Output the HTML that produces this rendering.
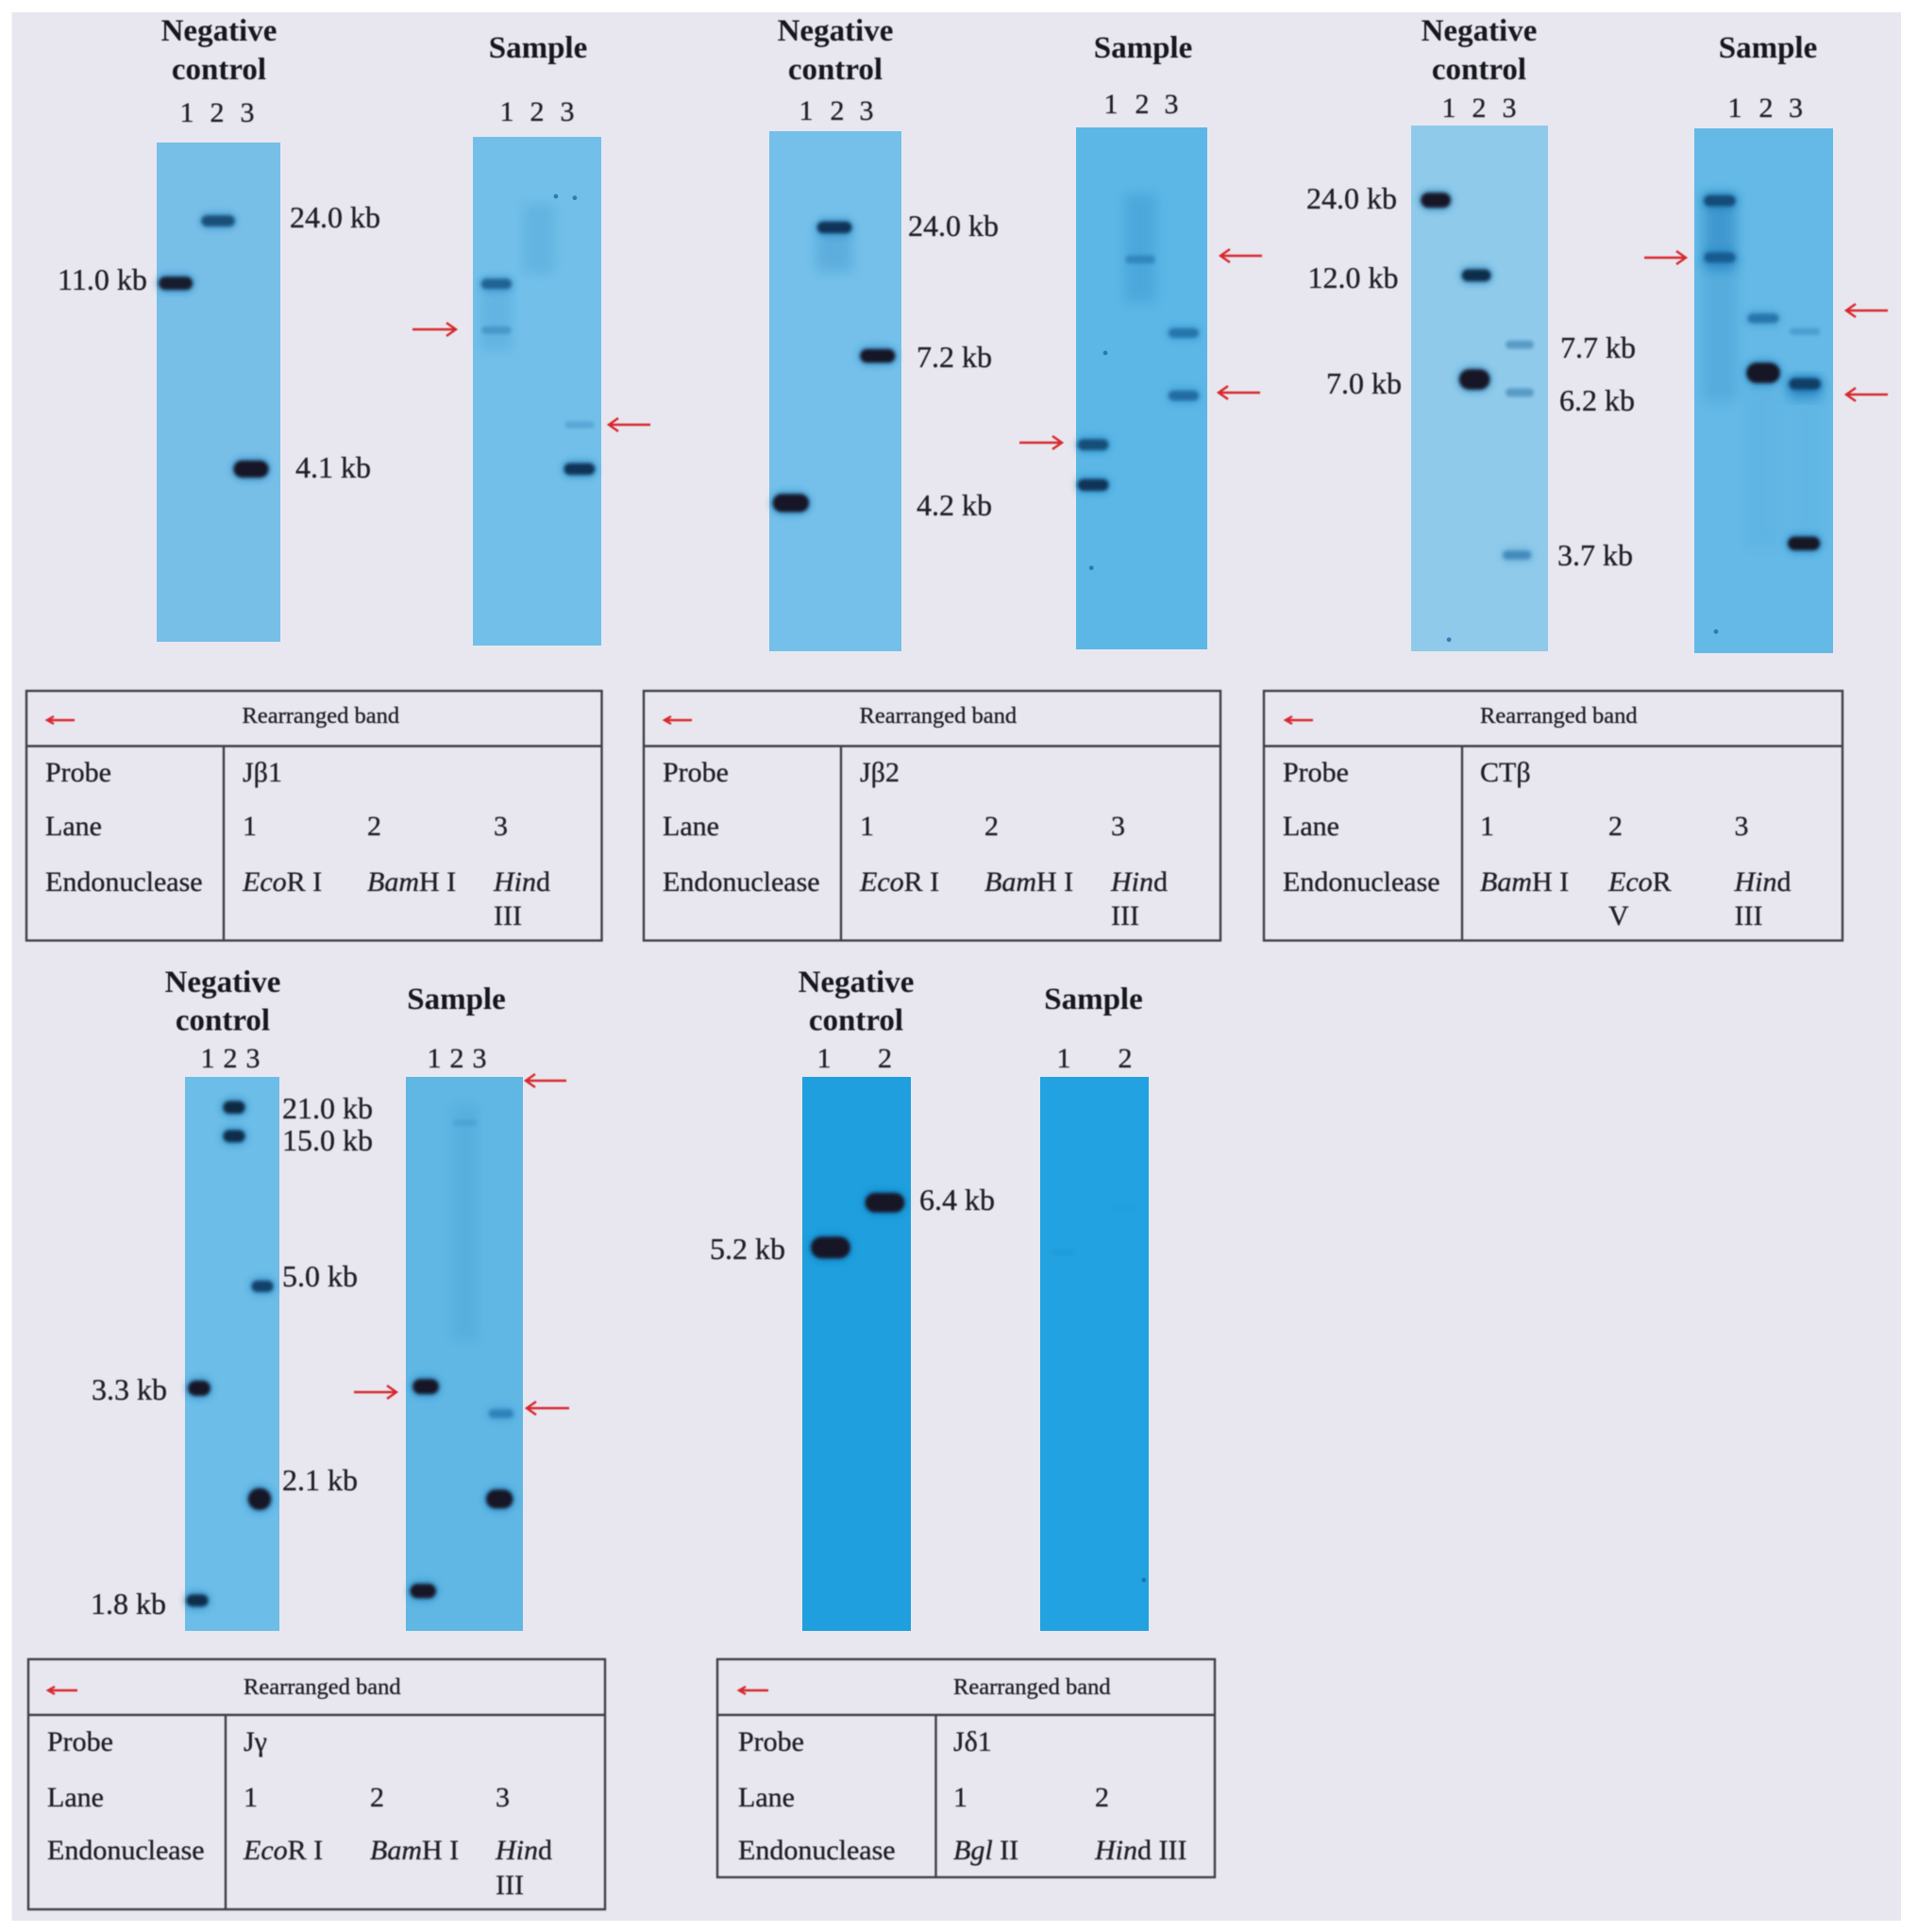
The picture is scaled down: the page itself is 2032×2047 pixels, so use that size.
<!DOCTYPE html>
<html lang="en">
<head>
<meta charset="utf-8">
<title>Southern blot panels</title>
<style>
html,body{margin:0;padding:0;background:#fff}
svg{display:block}
text{font-family:"Liberation Serif",serif;fill:#1f1f27;stroke:#1f1f27;stroke-width:.35px}
.h{font-weight:bold;font-size:33px;text-anchor:middle;fill:#17171e;stroke:none}
.n{font-size:30px;text-anchor:middle}
.k{font-size:32px}
.t{font-size:30px}
.r{font-size:24.5px}
.i{font-style:italic}
.line{stroke:#3f3f49;stroke-width:2.4;fill:none}
.arr{stroke:#d9282e;stroke-width:2.4;fill:none}
.soft{filter:blur(.6px)}
</style>
</head>
<body>
<svg id="figure" xmlns="http://www.w3.org/2000/svg" width="2032" height="2047" viewBox="0 0 2032 2047">
<defs>
<filter id="coreBlur" x="-30%" y="-60%" width="160%" height="220%"><feGaussianBlur stdDeviation="1.9"/></filter>
<filter id="haloBlur" x="-40%" y="-100%" width="180%" height="300%"><feGaussianBlur stdDeviation="4"/></filter>
<filter id="smearBlur" x="-50%" y="-30%" width="200%" height="160%"><feGaussianBlur stdDeviation="6"/></filter>
</defs>
<rect x="12.5" y="13" width="2001.5" height="2022" fill="#e8e7ef"/>
<g id="blots"></g>
<g class="soft">

<g>
<text class="h" x="232" y="43">Negative</text>
<text class="h" x="232" y="84">control</text>
<text class="h" x="570" y="61">Sample</text>
<text class="n" x="198" y="129">1</text>
<text class="n" x="230" y="129">2</text>
<text class="n" x="262" y="129">3</text>
<text class="n" x="537" y="128">1</text>
<text class="n" x="569" y="128">2</text>
<text class="n" x="601" y="128">3</text>
<text class="k" x="307" y="241">24.0 kb</text>
<text class="k" x="61" y="307">11.0 kb</text>
<text class="k" x="313" y="506">4.1 kb</text>
<path class="arr" d="M437 349H483M473 342L483 349L473 356"/>
<path class="arr" d="M689 450H645M655 443L645 450L655 457"/>
</g>

<g>
<text class="h" x="885" y="43">Negative</text>
<text class="h" x="885" y="84">control</text>
<text class="h" x="1211" y="61">Sample</text>
<text class="n" x="854" y="127">1</text>
<text class="n" x="887" y="127">2</text>
<text class="n" x="918" y="127">3</text>
<text class="n" x="1177" y="120">1</text>
<text class="n" x="1210" y="120">2</text>
<text class="n" x="1241" y="120">3</text>
<text class="k" x="962" y="250">24.0 kb</text>
<text class="k" x="971" y="389">7.2 kb</text>
<text class="k" x="971" y="546">4.2 kb</text>
<path class="arr" d="M1080 469H1125M1115 462L1125 469L1115 476"/>
<path class="arr" d="M1337 271H1293M1303 264L1293 271L1303 278"/>
<path class="arr" d="M1335 416H1291M1301 409L1291 416L1301 423"/>
</g>

<g>
<text class="h" x="1567" y="43">Negative</text>
<text class="h" x="1567" y="84">control</text>
<text class="h" x="1873" y="61">Sample</text>
<text class="n" x="1535" y="124">1</text>
<text class="n" x="1567" y="124">2</text>
<text class="n" x="1599" y="124">3</text>
<text class="n" x="1838" y="124">1</text>
<text class="n" x="1871" y="124">2</text>
<text class="n" x="1902.5" y="124">3</text>
<text class="k" x="1384" y="221">24.0 kb</text>
<text class="k" x="1385.5" y="305">12.0 kb</text>
<text class="k" x="1405" y="417">7.0 kb</text>
<text class="k" x="1653" y="379">7.7 kb</text>
<text class="k" x="1652" y="435">6.2 kb</text>
<text class="k" x="1650" y="599">3.7 kb</text>
<path class="arr" d="M1742 273H1786M1776 266L1786 273L1776 280"/>
<path class="arr" d="M2000 329H1956M1966 322L1956 329L1966 336"/>
<path class="arr" d="M2000 418H1956M1966 411L1956 418L1966 425"/>
</g>

<g>
<text class="h" x="236" y="1051">Negative</text>
<text class="h" x="236" y="1091.5">control</text>
<text class="h" x="483.5" y="1069">Sample</text>
<text class="n" x="220" y="1131">1</text>
<text class="n" x="244" y="1131">2</text>
<text class="n" x="268" y="1131">3</text>
<text class="n" x="460" y="1131">1</text>
<text class="n" x="484" y="1131">2</text>
<text class="n" x="508" y="1131">3</text>
<text class="k" x="299" y="1185">21.0 kb</text>
<text class="k" x="299" y="1219">15.0 kb</text>
<text class="k" x="299" y="1363">5.0 kb</text>
<text class="k" x="299" y="1579">2.1 kb</text>
<text class="k" x="97" y="1483">3.3 kb</text>
<text class="k" x="96" y="1710">1.8 kb</text>
<path class="arr" d="M600 1145H557M567 1138L557 1145L567 1152"/>
<path class="arr" d="M375 1475H420M410 1468L420 1475L410 1482"/>
<path class="arr" d="M603 1492H558M568 1485L558 1492L568 1499"/>
</g>

<g>
<text class="h" x="907" y="1051">Negative</text>
<text class="h" x="907" y="1091.5">control</text>
<text class="h" x="1158.5" y="1069">Sample</text>
<text class="n" x="873" y="1131">1</text>
<text class="n" x="937.5" y="1131">2</text>
<text class="n" x="1127" y="1131">1</text>
<text class="n" x="1192" y="1131">2</text>
<text class="k" x="974" y="1282">6.4 kb</text>
<text class="k" x="752" y="1334">5.2 kb</text>
</g>

<g transform="translate(28,732)">
<rect class="line" width="609.5" height="264.5"/>
<path class="line" d="M0 58.5H609.5M209 58V264"/>
<path class="arr" d="M51 31H22M29 27L22 31L29 35"/>
<text class="r" x="228.5" y="34">Rearranged band</text>
<text class="t" x="20" y="96">Probe</text>
<text class="t" x="229" y="96">Jβ1</text>
<text class="t" x="20" y="153">Lane</text>
<text class="t" x="229" y="153">1</text>
<text class="t" x="361" y="153">2</text>
<text class="t" x="495" y="153">3</text>
<text class="t" x="20" y="212">Endonuclease</text>
<text class="t" x="229" y="212"><tspan class="i">Eco</tspan>R I</text>
<text class="t" x="361" y="212"><tspan class="i">Bam</tspan>H I</text>
<text class="t" x="495" y="212"><tspan class="i">Hin</tspan>d</text>
<text class="t" x="495" y="248">III</text>
</g>

<g transform="translate(682,732)">
<rect class="line" width="611" height="264.5"/>
<path class="line" d="M0 58.5H611M209 58V264"/>
<path class="arr" d="M51 31H22M29 27L22 31L29 35"/>
<text class="r" x="228.5" y="34">Rearranged band</text>
<text class="t" x="20" y="96">Probe</text>
<text class="t" x="229" y="96">Jβ2</text>
<text class="t" x="20" y="153">Lane</text>
<text class="t" x="229" y="153">1</text>
<text class="t" x="361" y="153">2</text>
<text class="t" x="495" y="153">3</text>
<text class="t" x="20" y="212">Endonuclease</text>
<text class="t" x="229" y="212"><tspan class="i">Eco</tspan>R I</text>
<text class="t" x="361" y="212"><tspan class="i">Bam</tspan>H I</text>
<text class="t" x="495" y="212"><tspan class="i">Hin</tspan>d</text>
<text class="t" x="495" y="248">III</text>
</g>

<g transform="translate(1343,732)">
<rect class="line" width="613" height="264.5" x="-4"/>
<path class="line" d="M-4 58.5H609M206 58V264"/>
<path class="arr" d="M48 31H19M26 27L19 31L26 35"/>
<text class="r" x="229" y="34" dx="-4">Rearranged band</text>
<text class="t" x="16" y="96">Probe</text>
<text class="t" x="225" y="96">CTβ</text>
<text class="t" x="16" y="153">Lane</text>
<text class="t" x="225" y="153">1</text>
<text class="t" x="361" y="153">2</text>
<text class="t" x="494.5" y="153">3</text>
<text class="t" x="16" y="212">Endonuclease</text>
<text class="t" x="225" y="212"><tspan class="i">Bam</tspan>H I</text>
<text class="t" x="361" y="212"><tspan class="i">Eco</tspan>R</text>
<text class="t" x="361" y="248">V</text>
<text class="t" x="494.5" y="212"><tspan class="i">Hin</tspan>d</text>
<text class="t" x="494.5" y="248">III</text>
</g>

<g transform="translate(30,1758)">
<rect class="line" width="611" height="265"/>
<path class="line" d="M0 59H611M209 59V265"/>
<path class="arr" d="M52 33H21M28 29L21 33L28 37"/>
<text class="r" x="228" y="37">Rearranged band</text>
<text class="t" x="20" y="97">Probe</text>
<text class="t" x="228" y="97">Jγ</text>
<text class="t" x="20" y="156">Lane</text>
<text class="t" x="228" y="156">1</text>
<text class="t" x="362" y="156">2</text>
<text class="t" x="495" y="156">3</text>
<text class="t" x="20" y="212">Endonuclease</text>
<text class="t" x="228" y="212"><tspan class="i">Eco</tspan>R I</text>
<text class="t" x="362" y="212"><tspan class="i">Bam</tspan>H I</text>
<text class="t" x="495" y="212"><tspan class="i">Hin</tspan>d</text>
<text class="t" x="495" y="249">III</text>
</g>

<g transform="translate(760,1758)">
<rect class="line" width="527" height="231"/>
<path class="line" d="M0 59H527M231.5 59V231"/>
<path class="arr" d="M54 33H23M30 29L23 33L30 37"/>
<text class="r" x="250" y="37">Rearranged band</text>
<text class="t" x="22" y="97">Probe</text>
<text class="t" x="250" y="97">Jδ1</text>
<text class="t" x="22" y="156">Lane</text>
<text class="t" x="250" y="156">1</text>
<text class="t" x="400" y="156">2</text>
<text class="t" x="22" y="212">Endonuclease</text>
<text class="t" x="250" y="212"><tspan class="i">Bgl</tspan> II</text>
<text class="t" x="400" y="212"><tspan class="i">Hin</tspan>d III</text>
</g>
</g>
</svg>
<script>
// Band data: lane (fractional lane reading), migration (0 = top of membrane, 1 = bottom), signal (relative darkness/thickness).
const nc1Lane=[0.96,1.99,2.79];
const nc1Migration=[0.282,0.157,0.654];
const nc1Signal=[1.25,0.95,1.75];
const sa1Lane=[1.05,1.05,2.99,2.99];
const sa1Migration=[0.289,0.380,0.566,0.653];
const sa1Signal=[0.85,0.5,0.42,1.05];
const sa1SmearLane=[2.04,1.05];
const sa1SmearStart=[0.13,0.29];
const sa1SmearEnd=[0.27,0.42];
const sa1SmearAlpha=[0.14,0.14];
const sa1SpeckLane=[2.44,2.88];
const sa1SpeckMigration=[0.117,0.12];

const nc2Lane=[0.99,1.98,2.96];
const nc2Migration=[0.715,0.185,0.432];
const nc2Signal=[1.9,1.05,1.3];
const nc2SmearLane=[1.98];
const nc2SmearStart=[0.19];
const nc2SmearEnd=[0.27];
const nc2SmearAlpha=[0.22];
const sa2Lane=[0.89,0.89,1.97,2.96,2.96];
const sa2Migration=[0.608,0.685,0.253,0.394,0.514];
const sa2Signal=[0.95,1.05,0.6,0.75,0.8];
const sa2SmearLane=[1.97];
const sa2SmearStart=[0.127];
const sa2SmearEnd=[0.335];
const sa2SmearAlpha=[0.2];
const sa2SpeckLane=[1.17,0.85];
const sa2SpeckMigration=[0.432,0.844];

const nc3Lane=[1.04,1.93,1.89,2.88,2.88,2.82];
const nc3Migration=[0.142,0.285,0.483,0.417,0.508,0.817];
const nc3Signal=[1.5,1.1,2.2,0.6,0.6,0.65];
const nc3SpeckLane=[1.33];
const nc3SpeckMigration=[0.978];
const sa3Lane=[1.05,1.05,1.99,1.99,2.89,2.89,2.87];
const sa3Migration=[0.138,0.246,0.362,0.466,0.387,0.487,0.791];
const sa3Signal=[0.95,0.85,0.75,2.2,0.45,1.0,1.3];
const sa3SmearLane=[1.05,1.05,1.99,2.89,2.89];
const sa3SmearStart=[0.125,0.25,0.48,0.475,0.51];
const sa3SmearEnd=[0.27,0.52,0.8,0.515,0.8];
const sa3SmearAlpha=[0.42,0.16,0.05,0.55,0.04];
const sa3SpeckLane=[0.97];
const sa3SpeckMigration=[0.959];

const nc4Lane=[0.95,0.89,2.06,2.06,2.96,2.87];
const nc4Migration=[0.562,0.945,0.055,0.107,0.378,0.762];
const nc4Signal=[1.5,1.1,1.15,1.1,1.0,2.4];
const sa4Lane=[1.01,0.94,2.02,2.94,2.9];
const sa4Migration=[0.559,0.928,0.083,0.608,0.762];
const sa4Signal=[1.5,1.4,0.3,0.65,2.0];
const sa4SmearLane=[2.02];
const sa4SmearStart=[0.05];
const sa4SmearEnd=[0.475];
const sa4SmearAlpha=[0.1];

const nc5Lane=[1.02,2.02];
const nc5Migration=[0.308,0.227];
const nc5Signal=[2.4,2.1];
const sa5Lane=[0.92,2.08];
const sa5Migration=[0.317,0.237];
const sa5Signal=[0.2,0.1];
const sa5SpeckLane=[2.41];
const sa5SpeckMigration=[0.908];

const membranes=[
 {name:'j-beta-1-negative-control',x:166,y:151,w:131,h:529,lanes:3,fill:'#78bfe8',bandW:37,lane:nc1Lane,mig:nc1Migration,sig:nc1Signal},
 {name:'j-beta-1-sample',x:501,y:145,w:136,h:539,lanes:3,fill:'#72c0ea',bandW:34,lane:sa1Lane,mig:sa1Migration,sig:sa1Signal,sl:sa1SmearLane,ss:sa1SmearStart,se:sa1SmearEnd,sa:sa1SmearAlpha,pl:sa1SpeckLane,pm:sa1SpeckMigration},
 {name:'j-beta-2-negative-control',x:815,y:139,w:140,h:551,lanes:3,fill:'#74c0ea',bandW:38,lane:nc2Lane,mig:nc2Migration,sig:nc2Signal,sl:nc2SmearLane,ss:nc2SmearStart,se:nc2SmearEnd,sa:nc2SmearAlpha},
 {name:'j-beta-2-sample',x:1140,y:135,w:139,h:553,lanes:3,fill:'#5cb7e6',bandW:34,lane:sa2Lane,mig:sa2Migration,sig:sa2Signal,sl:sa2SmearLane,ss:sa2SmearStart,se:sa2SmearEnd,sa:sa2SmearAlpha,pl:sa2SpeckLane,pm:sa2SpeckMigration},
 {name:'ct-beta-negative-control',x:1495,y:133,w:145,h:557,lanes:3,fill:'#8fcaea',bandW:32,lane:nc3Lane,mig:nc3Migration,sig:nc3Signal,pl:nc3SpeckLane,pm:nc3SpeckMigration},
 {name:'ct-beta-sample',x:1795,y:136,w:147,h:556,lanes:3,fill:'#64b9e6',bandW:35,lane:sa3Lane,mig:sa3Migration,sig:sa3Signal,sl:sa3SmearLane,ss:sa3SmearStart,se:sa3SmearEnd,sa:sa3SmearAlpha,pl:sa3SpeckLane,pm:sa3SpeckMigration},
 {name:'j-gamma-negative-control',x:196,y:1141,w:100,h:587,lanes:3,fill:'#6cbde8',bandW:24,lane:nc4Lane,mig:nc4Migration,sig:nc4Signal},
 {name:'j-gamma-sample',x:430,y:1141,w:124,h:587,lanes:3,fill:'#60b7e4',bandW:28,lane:sa4Lane,mig:sa4Migration,sig:sa4Signal,sl:sa4SmearLane,ss:sa4SmearStart,se:sa4SmearEnd,sa:sa4SmearAlpha},
 {name:'j-delta-1-negative-control',x:850,y:1141,w:115,h:587,lanes:2,fill:'#1f9fde',bandW:41,lane:nc5Lane,mig:nc5Migration,sig:nc5Signal},
 {name:'j-delta-1-sample',x:1102,y:1141,w:115,h:587,lanes:2,fill:'#22a2e0',bandW:30,lane:sa5Lane,mig:sa5Migration,sig:sa5Signal,pl:sa5SpeckLane,pm:sa5SpeckMigration}
];

const NS='http://www.w3.org/2000/svg';
function laneX(m,lane){return m.x+(lane-0.5)/m.lanes*m.w;}
function migrationY(m,frac){return m.y+frac*m.h;}
function bandHeight(s){return 4+8*s;}
function bandOpacity(s){return Math.min(1,0.9*Math.pow(s,1.5));}
function bandColor(s){
  const t=Math.max(0,Math.min(1,(s-0.7)/0.6));
  const a=[8,90,150],b=[20,24,38];
  return 'rgb('+a.map((v,i)=>Math.round(v+(b[i]-v)*t)).join(',')+')';
}
function make(tag,attrs,parent){
  const el=document.createElementNS(NS,tag);
  for(const k in attrs){el.setAttribute(k,attrs[k]);}
  parent.appendChild(el);
  return el;
}
const root=document.getElementById('blots');
membranes.forEach(function(m){
  const g=make('g',{},root);
  
  
  const bg=make('rect',{x:m.x,y:m.y,width:m.w,height:m.h,fill:m.fill},g);
  
  
  (m.sl||[]).forEach(function(l,i){
    const y1=migrationY(m,m.ss[i]),y2=migrationY(m,m.se[i]);
    const r=make('rect',{x:laneX(m,l)-m.bandW/2,y:y1,width:m.bandW,height:y2-y1,fill:'#0a6db0',opacity:m.sa[i],filter:'url(#smearBlur)'},g);
    
    
  });
  m.lane.forEach(function(l,i){
    const s=m.sig[i],cx=laneX(m,l),cy=migrationY(m,m.mig[i]);
    const h=bandHeight(s),w=m.bandW*(0.9+0.06*Math.min(s,2)),op=bandOpacity(s);
    if(s>0.6){
      const halo=make('rect',{x:cx-w/2-2,y:cy-h/2-3,width:w+4,height:h+6,rx:(h+6)/2,fill:'#0a6db0',opacity:0.45*op,filter:'url(#haloBlur)'},g);
      
      
    }
    const r=make('rect',{x:cx-w/2,y:cy-h/2,width:w,height:h,rx:h/2,fill:bandColor(s),opacity:op,filter:'url(#coreBlur)'},g);
    
    
  });
  (m.pl||[]).forEach(function(l,i){
    const c=make('circle',{cx:laneX(m,l),cy:migrationY(m,m.pm[i]),r:2.4,fill:'#1a6aa8',opacity:0.8},g);
    
    
  });
});
</script>
</body>
</html>
